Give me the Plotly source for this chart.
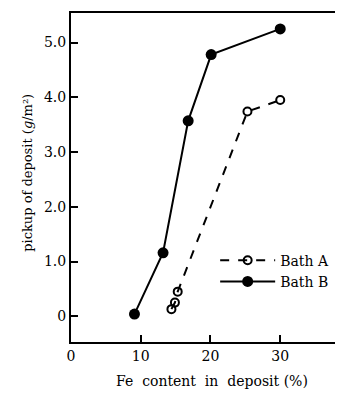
import plotly.graph_objects as go

# Data
bath_a_x = [14.4, 14.9, 15.3, 25.3, 30.0]
bath_a_y = [0.13, 0.25, 0.45, 3.74, 3.95]
bath_b_x = [9.1, 13.2, 16.8, 20.1, 30.0]
bath_b_y = [0.04, 1.16, 3.57, 4.78, 5.25]

x_ticks = [0, 10, 20, 30]
x_tick_text = ["0", "10", "20", "30"]
y_ticks = [0, 1, 2, 3, 4, 5]
y_tick_text = ["0", "1.0", "2.0", "3.0", "4.0", "5.0"]

FONT = "DejaVu Serif"

fig = go.Figure()
fig.add_trace(go.Scatter(
    x=bath_a_x, y=bath_a_y, name="Bath A", mode="lines+markers",
    line=dict(color="black", width=2, dash="dash"),
    marker=dict(symbol="circle-open", size=8, color="black", line=dict(width=2, color="black")),
))
fig.add_trace(go.Scatter(
    x=bath_b_x, y=bath_b_y, name="Bath B", mode="lines+markers",
    line=dict(color="black", width=2),
    marker=dict(symbol="circle", size=11, color="black"),
))

# page body has an 8px default margin, so the figure is offset by 8px
fig.update_layout(
    width=335, height=386,
    margin=dict(l=63, r=0, t=5, b=52),
    paper_bgcolor="white", plot_bgcolor="white",
    font=dict(family=FONT, color="black", size=13),
    showlegend=True,
    legend=dict(x=0.53, y=0.296, xanchor="left", yanchor="top",
                bgcolor="rgba(0,0,0,0)", itemwidth=55,
                font=dict(family=FONT, size=14, color="black")),
    xaxis=dict(range=[0, 39], tickvals=x_ticks, ticktext=x_tick_text,
               ticks="inside", ticklen=7, tickwidth=2, tickcolor="black",
               showline=True, linecolor="black", linewidth=2, mirror=True,
               showgrid=False, zeroline=False,
               tickfont=dict(family=FONT, size=14, color="black")),
    yaxis=dict(range=[-0.47, 5.54], tickvals=y_ticks, ticktext=y_tick_text,
               ticks="inside", ticklen=7, tickwidth=2, tickcolor="black",
               showline=True, linecolor="black", linewidth=2,
               showgrid=False, zeroline=False,
               tickfont=dict(family=FONT, size=14, color="black")),
    annotations=[
        dict(text="Fe  content  in  deposit (%)", xref="paper", yref="paper",
             x=(212 - 71) / 272, y=-0.12, xanchor="center", yanchor="middle",
             showarrow=False, font=dict(family=FONT, size=14, color="black")),
        dict(text="pickup of deposit (<i>g</i>/m²)", xref="paper", yref="paper",
             x=-0.16, y=(341.7 - 172) / 329, xanchor="center", yanchor="middle",
             textangle=-90, showarrow=False,
             font=dict(family=FONT, size=13, color="black")),
    ],
)

fig.write_html("out.html")
